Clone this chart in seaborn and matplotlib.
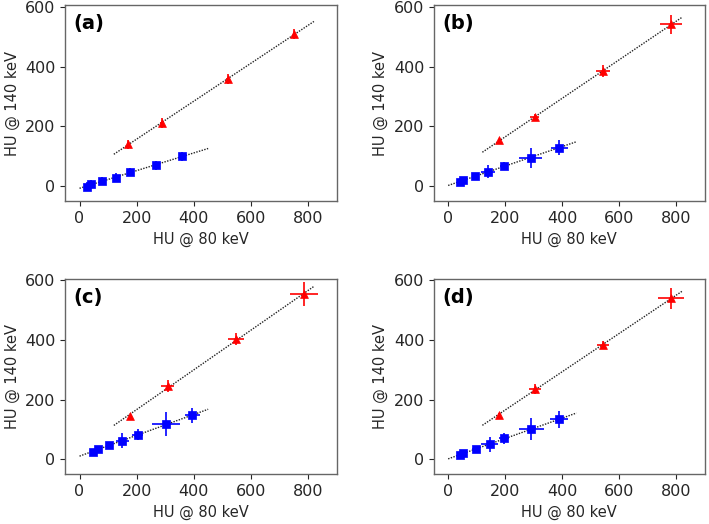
import numpy as np
import pandas as pd
import matplotlib
matplotlib.use("Agg")
import matplotlib.pyplot as plt
import seaborn as sns

# panel labels
panels = ["(a)", "(b)", "(c)", "(d)"]

# red triangles (high-density inserts): HU @ 80 keV, HU @ 140 keV, errors
red_x = [[170, 287, 519, 752],
         [180, 303, 543, 782],
         [178, 308, 549, 785],
         [180, 304, 543, 782]]
red_y = [[140, 212, 358, 509],
         [154, 230, 385, 541],
         [146, 245, 402, 553],
         [150, 236, 383, 539]]
red_xerr = [[4, 4, 5, 5],
            [5, 15, 25, 38],
            [4, 23, 28, 48],
            [5, 20, 22, 46]]
red_yerr = [[16, 16, 16, 16],
            [5, 10, 20, 31],
            [4, 20, 20, 40],
            [6, 18, 15, 36]]

# blue squares (low-density inserts)
blue_x = [[26, 40, 80, 127, 177, 266, 358],
          [40, 53, 94, 141, 195, 289, 389],
          [47, 63, 103, 150, 203, 302, 395],
          [40, 53, 96, 145, 197, 292, 389]]
blue_y = [[-1, 7, 18, 29, 47, 70, 100],
          [13, 21, 34, 49, 68, 95, 129],
          [25, 33, 47, 63, 83, 117, 147],
          [13, 22, 34, 50, 70, 101, 134]]
blue_xerr = [[8, 8, 8, 8, 8, 8, 8],
             [5, 6, 10, 25, 12, 40, 30],
             [8, 8, 12, 23, 18, 48, 26],
             [6, 8, 12, 29, 18, 45, 32]]
blue_yerr = [[14, 14, 14, 14, 14, 14, 14],
             [6, 8, 10, 22, 12, 33, 26],
             [8, 8, 12, 26, 17, 40, 24],
             [6, 8, 12, 26, 19, 36, 28]]

# x ranges of the fitted lines
red_fit_range = [120, 820]
blue_fit_range = [0, 450]

sns.set_style("ticks")
plt.rcParams['font.family'] = ['DejaVu Sans']

fig = plt.figure(figsize=(7.09, 5.24), dpi=100)
positions = [[0.092, 0.616, 0.383, 0.374],
             [0.612, 0.616, 0.382, 0.374],
             [0.092, 0.095, 0.383, 0.373],
             [0.612, 0.095, 0.382, 0.373]]

for i in range(4):
    ax = fig.add_axes(positions[i])

    # fitted lines
    for xs, ys, rng in [(red_x[i], red_y[i], red_fit_range),
                        (blue_x[i], blue_y[i], blue_fit_range)]:
        k, b = np.polyfit(xs, ys, 1)
        fx = np.array(rng, dtype=float)
        fit_df = pd.DataFrame({"x": fx, "y": k * fx + b})
        sns.lineplot(data=fit_df, x="x", y="y", ax=ax, color="#222222",
                     linestyle=(0, (1, 1)), linewidth=1.0)

    # error bars
    ax.errorbar(red_x[i], red_y[i], xerr=red_xerr[i], yerr=red_yerr[i],
                fmt="none", ecolor="red", elinewidth=1.2)
    ax.errorbar(blue_x[i], blue_y[i], xerr=blue_xerr[i], yerr=blue_yerr[i],
                fmt="none", ecolor="blue", elinewidth=1.2)

    # markers
    sns.scatterplot(x=red_x[i], y=red_y[i], ax=ax, marker="^", color="red",
                    s=32, edgecolor="red", linewidth=0.5, zorder=3)
    sns.scatterplot(x=blue_x[i], y=blue_y[i], ax=ax, marker="s", color="blue",
                    s=34, edgecolor="blue", linewidth=0.5, zorder=3)

    ax.set_xlim(-50, 900)
    ax.set_ylim(-50, 605)
    ax.set_xticks([0, 200, 400, 600, 800])
    ax.set_yticks([0, 200, 400, 600])
    ax.set_xlabel("HU @ 80 keV", fontsize=10.5, color="#262626")
    ax.set_ylabel("HU @ 140 keV", fontsize=10.5, color="#262626")
    ax.tick_params(labelsize=11.5, colors="#262626", length=3.5)
    for sp in ax.spines.values():
        sp.set_visible(True)
        sp.set_color("#666666")
        sp.set_linewidth(1.0)
    ax.text(0.03, 0.955, panels[i], transform=ax.transAxes, fontsize=14,
            fontweight="bold", va="top", ha="left", color="black")

fig.savefig("out.png", dpi=100)
